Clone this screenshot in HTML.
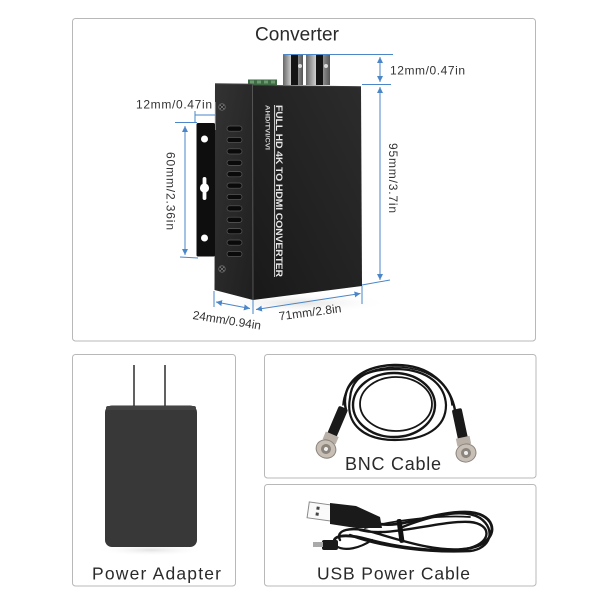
<!DOCTYPE html>
<html><head><meta charset="utf-8"><style>
html,body{margin:0;padding:0;background:#fff;width:600px;height:600px;overflow:hidden}
svg{display:block}
text{font-family:"Liberation Sans",sans-serif}
</style></head><body>
<svg width="600" height="600" viewBox="0 0 600 600" xmlns="http://www.w3.org/2000/svg">
<defs>
<marker id="ar" viewBox="0 0 10 10" refX="10" refY="5" markerWidth="6" markerHeight="6" orient="auto-start-reverse"><path d="M0,0 L10,5 L0,10 z" fill="#4a86c8"/></marker>
<linearGradient id="side" x1="0" y1="0" x2="1" y2="1"><stop offset="0" stop-color="#333"/><stop offset="1" stop-color="#1f1f1f"/></linearGradient>
<linearGradient id="front" x1="1" y1="0" x2="0" y2="1"><stop offset="0" stop-color="#2c2c2c"/><stop offset="1" stop-color="#191919"/></linearGradient>
<linearGradient id="silver" x1="0" y1="0" x2="1" y2="0"><stop offset="0" stop-color="#666"/><stop offset=".4" stop-color="#ccc"/><stop offset="1" stop-color="#555"/></linearGradient>
<radialGradient id="shadow" cx=".5" cy=".5" r=".5"><stop offset="0" stop-color="#e2e2e2"/><stop offset="1" stop-color="#fff" stop-opacity="0"/></radialGradient>
</defs>

<!-- boxes -->
<rect x="72.5" y="18.5" width="463" height="322.5" rx="3" fill="none" stroke="#b8b8b8"/>
<rect x="72.5" y="354.5" width="163" height="231.5" rx="3" fill="none" stroke="#b8b8b8"/>
<rect x="264.5" y="354.5" width="271.5" height="123.5" rx="3" fill="none" stroke="#b8b8b8"/>
<rect x="264.5" y="484.5" width="271.5" height="101.5" rx="3" fill="none" stroke="#b8b8b8"/>

<!-- titles -->
<text x="255" y="40.5" font-size="19" fill="#2a2a2a" textLength="84" lengthAdjust="spacing">Converter</text>
<text x="92" y="579.5" font-size="17.5" fill="#2a2a2a" textLength="129" lengthAdjust="spacing">Power Adapter</text>
<text x="345" y="470" font-size="18" fill="#2a2a2a" textLength="96" lengthAdjust="spacing">BNC Cable</text>
<text x="317" y="579.5" font-size="17.5" fill="#2a2a2a" textLength="153" lengthAdjust="spacing">USB Power Cable</text>

<!-- device shadow -->
<ellipse cx="300" cy="303" rx="90" ry="10" fill="url(#shadow)"/>

<!-- top connectors -->
<rect x="248" y="79.5" width="29" height="5.5" fill="#3f6b45"/>
<rect x="250" y="80.5" width="4" height="3" fill="#6b9a6e"/>
<rect x="257" y="80.5" width="4" height="3" fill="#6b9a6e"/>
<rect x="264" y="80.5" width="4" height="3" fill="#6b9a6e"/>
<rect x="271" y="80.5" width="4" height="3" fill="#6b9a6e"/>
<rect x="283" y="55" width="20" height="30" fill="url(#silver)"/>
<rect x="291" y="55" width="7" height="30" fill="#141414"/>
<rect x="306" y="55" width="24" height="30" fill="url(#silver)"/>
<rect x="316" y="55" width="7" height="30" fill="#141414"/>
<circle cx="300" cy="66" r="2" fill="#ddd"/>
<circle cx="326" cy="66" r="2" fill="#ddd"/>

<!-- device body -->
<polygon points="215,83.5 252.5,84 253,300 214.5,290" fill="url(#side)"/>
<polygon points="252.5,85 361,86.5 362,286 253,300" fill="url(#front)"/>
<line x1="252.5" y1="84.5" x2="253" y2="300" stroke="#555" stroke-width="1"/>
<line x1="215" y1="83.8" x2="252.5" y2="84.3" stroke="#444" stroke-width="1"/>
<line x1="253" y1="85.3" x2="361" y2="86.8" stroke="#3a3a3a" stroke-width="1"/>

<!-- vents -->
<g fill="#0a0a0a" stroke="#5a5a5a" stroke-width="0.7">
<rect x="227" y="126" width="15" height="5.2" rx="2.6"/>
<rect x="227" y="137.4" width="15" height="5.2" rx="2.6"/>
<rect x="227" y="148.8" width="15" height="5.2" rx="2.6"/>
<rect x="227" y="160.2" width="15" height="5.2" rx="2.6"/>
<rect x="227" y="171.6" width="15" height="5.2" rx="2.6"/>
<rect x="227" y="183" width="15" height="5.2" rx="2.6"/>
<rect x="227" y="194.4" width="15" height="5.2" rx="2.6"/>
<rect x="227" y="205.8" width="15" height="5.2" rx="2.6"/>
<rect x="227" y="217.2" width="15" height="5.2" rx="2.6"/>
<rect x="227" y="228.6" width="15" height="5.2" rx="2.6"/>
<rect x="227" y="240" width="15" height="5.2" rx="2.6"/>
<rect x="227" y="251.4" width="15" height="5.2" rx="2.6"/>
</g>
<!-- screws -->
<g fill="#1a1a1a" stroke="#777" stroke-width="0.8">
<circle cx="222" cy="107" r="3.2"/><circle cx="222" cy="269" r="3.2"/>
</g>
<path d="M220,105 L224,109 M224,105 L220,109 M220,267 L224,271 M224,267 L220,271" stroke="#888" stroke-width="0.7"/>

<!-- bracket -->
<rect x="196.5" y="123" width="18.5" height="133.5" rx="1.5" fill="#0e0e0e"/>
<g fill="#fff">
<circle cx="204.5" cy="139" r="3.5"/>
<circle cx="204.5" cy="238" r="3.5"/>
<circle cx="204.5" cy="188" r="4.6"/>
<rect x="202.6" y="177" width="3.8" height="23" rx="1.9"/>
</g>

<!-- front text -->
<g transform="translate(279,191) rotate(90)">
<text x="0" y="3.2" font-size="9" font-weight="bold" fill="#e8e8e8" text-anchor="middle" textLength="172" lengthAdjust="spacingAndGlyphs">FULL HD 4K TO HDMI CONVERTER</text>
</g>
<line x1="274.6" y1="105" x2="274.6" y2="277" stroke="#dcdcdc" stroke-width="1"/>
<g transform="translate(267.5,127.5) rotate(90)">
<text x="0" y="2.2" font-size="6" font-weight="bold" fill="#cfcfcf" text-anchor="middle" textLength="45" lengthAdjust="spacingAndGlyphs">AHD/TVI/CVI</text>
</g>

<!-- dimension lines -->
<g stroke="#4a86c8" stroke-width="1" fill="none">
<line x1="283" y1="54.5" x2="393" y2="54.5"/>
<line x1="362" y1="84.5" x2="391" y2="84.5"/>
<line x1="380" y1="57" x2="380" y2="82" marker-start="url(#ar)" marker-end="url(#ar)"/>
<line x1="380" y1="87" x2="380" y2="280" marker-start="url(#ar)" marker-end="url(#ar)"/>
<line x1="362" y1="285" x2="390" y2="280"/>
<line x1="362" y1="286" x2="362" y2="304"/>
<line x1="195" y1="115" x2="215" y2="115"/>
<line x1="195" y1="111" x2="195" y2="123"/>
<line x1="215.5" y1="102" x2="215.5" y2="130"/>
<line x1="175" y1="122.5" x2="197" y2="122.5"/>
<line x1="180" y1="257" x2="198" y2="258"/>
<line x1="185" y1="126" x2="185" y2="255" marker-start="url(#ar)" marker-end="url(#ar)"/>
<line x1="214" y1="291" x2="214" y2="307"/>
<line x1="253" y1="300" x2="253" y2="314"/>
<line x1="216" y1="302" x2="250" y2="308.5" marker-start="url(#ar)" marker-end="url(#ar)"/>
<line x1="256" y1="309.5" x2="360.5" y2="293.5" marker-start="url(#ar)" marker-end="url(#ar)"/>
</g>

<!-- dimension texts -->
<g font-size="12" fill="#333">
<text x="390" y="74.5" textLength="75" lengthAdjust="spacing">12mm/0.47in</text>
<text x="136" y="108.5" textLength="76" lengthAdjust="spacing">12mm/0.47in</text>
<g transform="translate(393.5,178) rotate(90)"><text x="0" y="4.3" text-anchor="middle" textLength="70" lengthAdjust="spacing">95mm/3.7in</text></g>
<g transform="translate(171,191) rotate(90)"><text x="0" y="4.3" text-anchor="middle" textLength="78" lengthAdjust="spacing">60mm/2.36in</text></g>
<g transform="translate(227,320) rotate(9)"><text x="0" y="4.3" text-anchor="middle" textLength="69" lengthAdjust="spacing">24mm/0.94in</text></g>
<g transform="translate(310,312) rotate(-7.5)"><text x="0" y="4.3" text-anchor="middle" textLength="63" lengthAdjust="spacing">71mm/2.8in</text></g>
</g>

<!-- power adapter -->
<ellipse cx="151" cy="550" rx="55" ry="6" fill="url(#shadow)"/>
<line x1="134" y1="365" x2="134" y2="406" stroke="#3a3a3a" stroke-width="1.6"/>
<line x1="165" y1="365" x2="165" y2="406" stroke="#3a3a3a" stroke-width="1.6"/>
<rect x="105" y="405.5" width="92" height="141.5" rx="7" fill="#383838"/>
<rect x="106" y="406" width="90" height="4" rx="2" fill="#444"/>

<!-- BNC cable -->
<g fill="none" stroke="#151515" stroke-linecap="round">
<path d="M346,410 C340,385 360,366 394,365 C430,364 450,385 455,410" stroke-width="2.4"/>
<ellipse cx="394" cy="405" rx="41" ry="32" stroke-width="2.4"/>
<path d="M350,398 C352,372 375,369 398,369 C428,370 445,385 446,405 C446,428 425,440 395,440 C365,440 345,425 350,398" stroke-width="2.2"/>
<ellipse cx="396" cy="404" rx="36" ry="27" stroke-width="1.8"/>
<path d="M343,405 C345,378 370,368 396,367 C425,367 450,382 452,405" stroke-width="1.6"/>
</g>
<g transform="translate(326,449) rotate(23)">
<rect x="-5" y="-45" width="10" height="32" rx="2" fill="#1a1a1a"/>
<rect x="-7" y="-16" width="14" height="8" fill="#b9b1a8"/>
<ellipse cx="0" cy="0" rx="10" ry="9" fill="#c8c0b6" stroke="#8b847c" stroke-width="1"/>
<circle cx="0" cy="0" r="5" fill="#8c857d"/>
<circle cx="0" cy="0" r="2" fill="#eee"/>
</g>
<g transform="translate(466,453) rotate(-12)">
<rect x="-5" y="-45" width="10" height="32" rx="2" fill="#1a1a1a"/>
<rect x="-7" y="-16" width="14" height="8" fill="#b9b1a8"/>
<ellipse cx="0" cy="0" rx="10" ry="9" fill="#c8c0b6" stroke="#8b847c" stroke-width="1"/>
<circle cx="0" cy="0" r="5" fill="#8c857d"/>
<circle cx="0" cy="0" r="2" fill="#eee"/>
</g>

<!-- USB cable -->
<g fill="none" stroke="#151515" stroke-linecap="round">
<path d="M375,523 C400,530 430,512 465,512 C495,512 500,535 480,545 C455,556 400,548 370,540 C345,533 330,535 335,545" stroke-width="2.8"/>
<path d="M360,530 C390,538 440,520 470,522 C492,524 492,542 470,548 C440,554 400,540 372,532 C350,526 335,530 340,540" stroke-width="2.4"/>
<path d="M350,535 C380,547 430,553 470,551 C490,549 497,530 480,518 C460,506 420,520 400,528" stroke-width="2.4"/>
<path d="M336,546 C345,552 360,548 372,540" stroke-width="2.2"/>
<path d="M365,528 C395,520 440,515 470,517" stroke-width="1.8"/>
</g>
<rect x="398" y="519" width="5" height="24" rx="2" fill="#111" transform="rotate(-8 400 531)"/>
<g transform="rotate(8 320 512)">
<rect x="308" y="503.5" width="24" height="16" fill="#fafafa" stroke="#8a8a8a" stroke-width="1"/>
<rect x="316" y="507" width="3" height="3" fill="#444"/>
<rect x="316" y="513" width="3" height="3" fill="#444"/>
</g>
<polygon points="330,503 356,506 380,517 382,528 356,528 330,524" fill="#1a1a1a"/>
<rect x="322" y="540" width="16" height="10" rx="2" fill="#1a1a1a"/>
<rect x="313" y="542" width="10" height="5" fill="#aaa"/>
</svg>
</body></html>
